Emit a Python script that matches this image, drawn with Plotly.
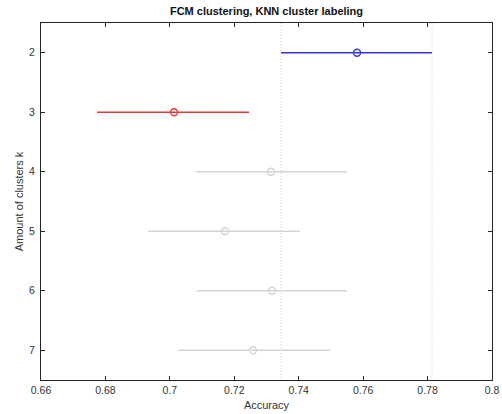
import plotly.graph_objects as go

# Mean accuracy and comparison interval for each number of clusters
clusters = [2, 3, 4, 5, 6, 7]
acc_mean = [0.7581, 0.7013, 0.7314, 0.7171, 0.7317, 0.7258]
acc_low = [0.7345, 0.6774, 0.7080, 0.6932, 0.7083, 0.7025]
acc_high = [0.7814, 0.7246, 0.7550, 0.7404, 0.7550, 0.7497]
row_colors = ["#3535dc", "#e83838", "#d4d4d4", "#d4d4d4", "#d4d4d4", "#d4d4d4"]

x_ticks = [0.66, 0.68, 0.70, 0.72, 0.74, 0.76, 0.78, 0.80]
x_tick_text = ["0.66", "0.68", "0.7", "0.72", "0.74", "0.76", "0.78", "0.8"]

FONT = "Liberation Sans, Arial, sans-serif"

fig = go.Figure()

# Reference interval of the selected group (k = 2)
for xv in (acc_low[0], acc_high[0]):
    fig.add_trace(go.Scatter(
        x=[xv, xv], y=[1.5, 7.5], mode="lines",
        line=dict(color="#cfcfcf", width=1, dash="1px,2px"),
        hoverinfo="skip", showlegend=False,
    ))

for k, m, lo, hi, c in zip(clusters, acc_mean, acc_low, acc_high, row_colors):
    fig.add_trace(go.Scatter(
        x=[lo, hi], y=[k, k], mode="lines",
        line=dict(color=c, width=1.6),
        showlegend=False,
    ))
    fig.add_trace(go.Scatter(
        x=[m], y=[k], mode="markers",
        marker=dict(symbol="circle-open", size=7, color=c, line=dict(width=1.4, color=c)),
        showlegend=False,
    ))

axis_common = dict(
    showline=True, linecolor="#262626", linewidth=1, mirror="ticks",
    ticks="inside", ticklen=4, tickcolor="#262626", showgrid=False, zeroline=False,
    automargin=False,
    tickfont=dict(family=FONT, size=10.5, color="#333333"),
)

fig.update_layout(
    width=502, height=414,
    margin=dict(l=41, r=10, t=23, b=34),
    paper_bgcolor="white", plot_bgcolor="white",
    title=dict(
        text="<b>FCM clustering, KNN cluster labeling</b>",
        xref="paper", x=0.5, xanchor="center", y=0.973, yanchor="middle",
        font=dict(family=FONT, size=11, color="#111111"),
    ),
    xaxis=dict(
        range=[0.66, 0.80], tickvals=x_ticks, ticktext=x_tick_text,
        title=dict(text="Accuracy", standoff=6,
                   font=dict(family=FONT, size=11, color="#333333")),
        **axis_common,
    ),
    yaxis=dict(
        range=[7.5, 1.5], tickvals=clusters, ticklabelstandoff=3,
        title=dict(text="Amount of clusters k", standoff=3,
                   font=dict(family=FONT, size=11, color="#333333")),
        **axis_common,
    ),
)

fig.write_html("out.html")
